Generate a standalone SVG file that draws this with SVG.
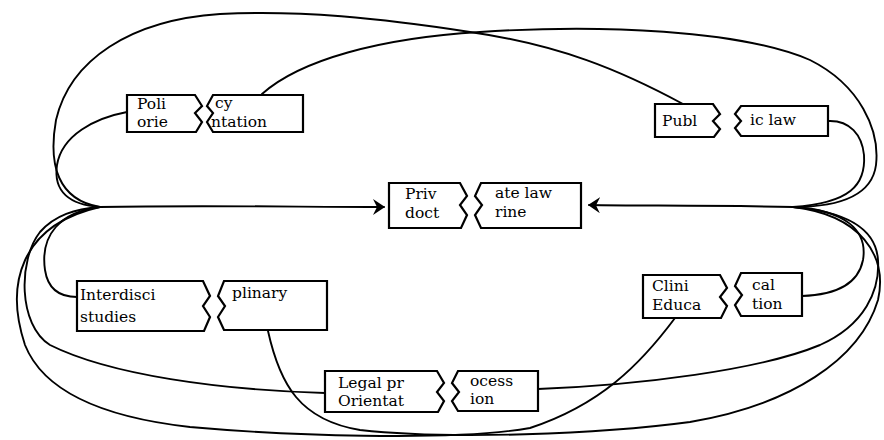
<svg xmlns="http://www.w3.org/2000/svg" width="884" height="440" viewBox="0 0 884 440">
<style>
.box{fill:#fff;stroke:#000;stroke-width:2.2;stroke-linejoin:miter}
.t{font-family:"DejaVu Serif","Liberation Serif",serif;font-size:15.5px;fill:#000}
.c{fill:none;stroke:#000;stroke-width:1.9;stroke-linecap:round}
</style>
<defs>
<marker id="ah" viewBox="0 0 12 16" refX="11" refY="8" markerWidth="12" markerHeight="16" markerUnits="userSpaceOnUse" orient="auto">
<path d="M0,0 L12,8 L0,16 L4,8 Z" fill="#000"/>
</marker>
</defs>
<rect width="884" height="440" fill="#fff"/>
<g id="connectors">
<path class="c" d="M127,112 C95,118 62,135 57,165 C53,192 70,205 100,207"/>
<path class="c" d="M683,104 C620,70 560,45 470,32 C380,18 300,10 220,14 C130,20 70,60 56,120 C48,165 58,200 100,207"/>
<path class="c" d="M262,94 C300,60 380,38 480,32 C600,24 740,30 810,60 C860,85 880,130 876,165 C872,195 840,207 793,207"/>
<path class="c" d="M828,121 C850,120 862,135 864,155 C866,185 850,203 793,207"/>
<path class="c" d="M77,297 C60,297 48,290 45,270 C40,235 60,212 100,207"/>
<path class="c" d="M802,296 C835,295 858,285 863,260 C868,230 845,210 793,207"/>
<path class="c" d="M325,393 C220,390 110,375 50,345 C18,325 18,260 40,232 C55,215 75,209 100,207"/>
<path class="c" d="M538,389 C640,385 760,370 820,345 C865,325 880,290 878,260 C876,230 850,212 793,207"/>
<path class="c" d="M268,331 C280,385 300,420 360,430 C450,440 600,434 690,422 C790,405 860,360 878,300 C888,255 860,215 793,207"/>
<path class="c" d="M675,318 C640,365 600,405 530,428 C450,442 280,435 190,427 C110,418 45,395 25,345 C5,285 20,225 100,207"/>
<path class="c" d="M100,207 C200,205 300,207 384,207" marker-end="url(#ah)"/>
<path class="c" d="M793,207 C700,205 640,206 589,205" marker-end="url(#ah)"/>
</g>
<g id="policy-orientation">
<path class="box" d="M127,95 L195,95 L202,106 L195,113 L202,122 L196,132 L127,132 Z"/>
<path class="box" d="M213,95 L303,95 L303,132 L213,132 L207,122 L213,113 L207,106 Z"/>
<text class="t" x="137" y="109">Poli</text>
<text class="t" x="137" y="127">orie</text>
<text class="t" x="215" y="108">cy</text>
<text class="t" x="211" y="127">ntation</text>
</g>
<g id="public-law">
<path class="box" d="M655,104 L713,104 L720,114 L713,121 L720,129 L714,137 L655,137 Z"/>
<path class="box" d="M741,106 L828,106 L828,136 L741,136 L735,128 L741,121 L735,114 Z"/>
<text class="t" x="662" y="126">Publ</text>
<text class="t" x="750" y="125">ic law</text>
</g>
<g id="private-law-doctrine">
<path class="box" d="M389,183 L460,183 L467,196 L460,205 L467,215 L461,228 L389,228 Z"/>
<path class="box" d="M481,183 L581,183 L581,228 L481,228 L475,215 L482,205 L475,196 Z"/>
<text class="t" x="405" y="199">Priv</text>
<text class="t" x="405" y="218">doct</text>
<text class="t" x="495" y="198">ate law</text>
<text class="t" x="495" y="217">rine</text>
</g>
<g id="interdisciplinary-studies">
<path class="box" d="M77,281 L203,281 L210,296 L203,306 L210,317 L204,331 L77,331 Z"/>
<path class="box" d="M224,281 L327,281 L327,330 L224,330 L218,317 L225,306 L218,296 Z"/>
<text class="t" x="80" y="300">Interdisci</text>
<text class="t" x="80" y="322">studies</text>
<text class="t" x="232" y="298">plinary</text>
</g>
<g id="clinical-education">
<path class="box" d="M643,275 L720,275 L727,288 L720,297 L727,306 L721,318 L643,318 Z"/>
<path class="box" d="M741,273 L802,273 L802,316 L741,316 L735,305 L742,295 L735,286 Z"/>
<text class="t" x="652" y="291">Clini</text>
<text class="t" x="652" y="310">Educa</text>
<text class="t" x="752" y="290">cal</text>
<text class="t" x="752" y="309">tion</text>
</g>
<g id="legal-profession-orientation">
<path class="box" d="M325,371 L437,371 L444,383 L437,392 L444,401 L438,412 L325,412 Z"/>
<path class="box" d="M458,371 L538,371 L538,411 L458,411 L452,401 L459,392 L452,383 Z"/>
<text class="t" x="338" y="388">Legal pr</text>
<text class="t" x="338" y="406">Orientat</text>
<text class="t" x="470" y="386">ocess</text>
<text class="t" x="470" y="404">ion</text>
</g>
</svg>
